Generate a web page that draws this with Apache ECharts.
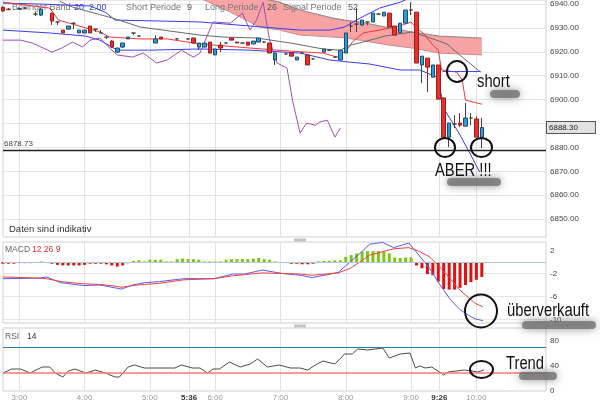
<!DOCTYPE html>
<html>
<head>
<meta charset="utf-8">
<script src="https://cdn.jsdelivr.net/npm/echarts@6/dist/echarts.min.js"></script>
<style>
html,body{margin:0;padding:0;background:#fff;}
#chart{width:600px;height:404px;}
</style>
</head>
<body>
<div id="chart"></div>
<script>
// ---------------- data ----------------
const gridTimes = ['3:00','4:00','5:00','5:36','6:00','7:00','8:00','9:00','9:26','10:00'];
const boldTimes = ['5:36','9:26'];
const priceTicks = [6850,6860,6870,6880,6890,6900,6910,6920,6930,6940];
const macdTicks = [2,-2,-6,-10];
const macdGridVals = [-2,-6,-10];
const rsiTicks = [0,40,80];
const refPrice = 6878.73;
const lastPrice = 6888.30;
const shortLevel = [['9:29',6912.0],['10:04',6912.0]];

// [time, open, close, low, high]
const candles = [
['2:45',6938.7,6937.1,6936.8,6939.0],['2:50',6937.9,6937.7,6937.4,6938.3],['3:00',6937.9,6938.1,6937.5,6938.5],
['3:05',6938.3,6938.3,6937.9,6938.7],['3:15',6935.8,6935.8,6935.0,6936.6],['3:20',6935.4,6937.9,6935.0,6938.3],
['3:30',6936.2,6932.9,6931.2,6936.4],['3:35',6932.5,6932.5,6931.2,6932.5],['3:40',6929.1,6927.9,6927.9,6929.1],
['3:45',6929.5,6930.8,6929.5,6930.8],['3:50',6932.0,6932.0,6929.5,6932.0],['3:55',6927.9,6929.1,6927.9,6929.1],
['4:00',6927.9,6929.1,6927.9,6929.1],['4:05',6930.8,6927.9,6927.9,6930.8],['4:10',6929.5,6929.5,6928.3,6929.5],
['4:15',6927.9,6927.9,6927.9,6929.1],['4:20',6926.2,6926.2,6925.4,6926.2],['4:25',6924.5,6922.0,6921.6,6924.9],
['4:30',6919.9,6921.6,6919.5,6921.6],['4:35',6922.0,6923.7,6921.6,6923.7],['4:40',6925.4,6926.2,6925.4,6926.2],
['4:45',6927.9,6927.9,6927.0,6927.9],['4:50',6926.6,6926.6,6926.4,6926.8],['5:05',6923.7,6925.4,6923.7,6927.0],
['5:10',6926.2,6925.4,6925.4,6926.2],['5:25',6925.4,6925.4,6925.2,6925.6],['5:35',6925.4,6925.4,6925.2,6925.6],
['5:40',6925.8,6923.7,6923.7,6925.8],['5:45',6922.0,6923.7,6920.7,6923.7],['5:50',6922.0,6923.7,6922.0,6923.7],
['5:55',6924.1,6919.5,6919.5,6924.1],['6:00',6918.7,6921.2,6918.7,6921.2],['6:05',6922.8,6921.6,6919.9,6924.1],
['6:10',6923.7,6923.7,6923.5,6923.9],['6:15',6925.8,6924.9,6924.9,6925.8],['6:20',6924.1,6923.7,6923.7,6924.1],
['6:25',6923.7,6923.7,6923.5,6923.9],['6:30',6924.1,6922.8,6922.8,6924.1],['6:35',6923.3,6924.5,6923.3,6924.5],
['6:40',6924.1,6925.8,6924.1,6925.8],['6:45',6924.1,6924.1,6923.9,6924.3],['6:50',6923.7,6919.5,6919.5,6923.7],
['6:55',6916.6,6919.5,6914.5,6919.5],['7:05',6919.1,6919.1,6918.9,6919.3],['7:10',6919.5,6918.2,6918.2,6919.5],
['7:15',6916.6,6917.8,6916.6,6917.8],['7:20',6919.5,6919.5,6919.3,6919.7],['7:25',6918.7,6914.5,6914.5,6918.7],
['7:30',6917.0,6917.0,6916.8,6917.2],['7:40',6919.9,6921.2,6919.9,6921.2],['7:45',6920.7,6920.7,6920.5,6920.9],
['7:50',6917.8,6917.8,6917.6,6918.0],['7:55',6916.6,6920.7,6916.6,6920.7],['8:00',6919.5,6927.9,6919.5,6927.9],
['8:05',6930.8,6930.8,6928.3,6932.5],['8:10',6931.6,6931.6,6928.3,6938.3],['8:15',6931.2,6933.3,6931.2,6933.3],
['8:20',6932.5,6932.5,6931.2,6932.5],['8:25',6932.5,6936.2,6932.5,6936.2],['8:30',6935.8,6935.8,6935.6,6936.0],
['8:35',6935.0,6936.6,6935.0,6936.6],['8:40',6936.2,6930.4,6930.4,6936.2],['8:45',6930.8,6927.0,6927.0,6930.8],
['8:50',6927.9,6932.0,6927.9,6932.0],['8:55',6932.0,6937.5,6932.0,6937.5],['9:00',6937.5,6937.5,6935.4,6940.8],
['9:05',6936.6,6915.3,6915.3,6936.6],['9:10',6914.5,6918.2,6906.9,6918.2],['9:15',6917.4,6913.6,6903.2,6917.4],
['9:20',6909.4,6914.5,6909.4,6914.5],['9:25',6914.5,6900.2,6900.2,6914.5],['9:30',6900.7,6884.3,6884.3,6900.7],
['9:35',6884.3,6890.2,6880.1,6890.2],['9:40',6889.8,6889.8,6888.1,6893.5],['9:45',6890.2,6889.3,6888.5,6894.4],
['9:50',6888.9,6892.3,6888.9,6898.6],['9:55',6892.3,6892.3,6889.3,6894.4],['10:00',6891.9,6884.3,6884.3,6893.0],
['10:05',6884.3,6888.3,6879.7,6892.3]
];

const bbUpper = [['2:45',6940.4],['3:19',6940.0],['4:05',6939.2],['4:19',6936.6],['4:28',6933.3],['5:09',6932.9],['5:46',6932.5],['6:32',6930.8],['7:18',6929.1],['7:45',6929.1],['7:59',6930.4],['8:13',6934.1],['8:31',6938.3],['8:50',6940.8],['9:01',6942.9]];
const bbLower = [['2:45',6929.1],['3:28',6927.9],['4:01',6926.6],['4:14',6924.9],['4:30',6920.7],['5:00',6920.7],['5:46',6921.2],['6:32',6920.7],['7:18',6919.5],['7:45',6916.6],['8:04',6915.7],['8:22',6914.9],['8:50',6912.4],['9:08',6912.4],['9:24',6909.4],['9:31',6895.6],['9:45',6885.2],['9:54',6877.6],['10:03',6869.7]];
const tenkan = [['2:45',6940.8],['3:28',6938.3],['3:36',6933.3],['4:14',6928.3],['4:23',6926.2],['4:51',6925.4],['5:16',6925.4],['5:46',6923.3],['6:32',6921.6],['7:09',6920.3],['7:39',6919.5],['7:52',6917.8],['8:01',6920.7],['8:06',6924.1],['8:16',6927.9],['8:40',6929.9],['8:52',6931.2],['9:00',6932.5],['9:05',6929.9],['9:11',6927.9],['9:20',6922.8],['9:25',6920.7],['9:28',6912.4],['9:42',6911.5],['9:47',6908.2],['9:50',6899.8],['10:05',6898.1]];
const kijun = [['3:37',6941.2],['3:49',6938.7],['4:26',6934.1],['4:51',6930.4],['5:46',6927.0],['6:07',6926.2],['6:38',6925.8],['7:09',6923.7],['7:39',6921.2],['7:55',6920.7],['8:04',6922.8],['8:16',6924.1],['8:36',6926.6],['9:01',6928.3],['9:20',6925.4],['9:33',6923.3],['9:47',6917.8],['10:04',6911.5]];
const chikou = [['2:45',6924.9],['3:01',6924.9],['3:12',6923.7],['3:30',6919.9],['3:39',6921.6],['3:49',6924.1],['3:58',6922.0],['4:05',6924.9],['4:14',6925.8],['4:23',6921.6],['4:30',6918.7],['4:44',6917.8],['4:54',6919.5],['5:06',6915.3],['5:16',6916.6],['5:29',6920.7],['5:40',6917.8],['5:46',6919.5],['5:58',6932.5],['6:14',6932.0],['6:25',6936.2],['6:32',6929.1],['6:38',6933.3],['6:44',6940.8],['6:50',6924.9],['6:57',6915.3],['7:06',6913.2],['7:11',6899.8],['7:18',6886.0],['7:24',6890.2],['7:32',6889.3],['7:36',6890.6],['7:43',6891.4],['7:50',6884.3],['7:55',6888.1]];
const cloudTimes  = ['5:46','6:14','6:41','6:59','7:18','7:48','7:59','8:13','8:40','9:01','9:26','10:05'];
const cloudTop    = [6942.5,6942.5,6942.5,6940.8,6937.5,6934.1,6933.3,6932.5,6930.0,6928.3,6926.6,6925.8];
const cloudBottom = [6942.5,6936.6,6930.4,6929.1,6927.0,6926.2,6925.8,6924.9,6922.8,6921.6,6919.5,6918.7];

const histStart = '2:45';
const macdHist = [-0.3,-0.3,-0.3,-0.2,-0.2,-0.2,-0.1,0.1,0.0,-0.3,
 -0.5,-0.6,-0.6,-0.6,-0.6,-0.5,-0.3,-0.3,-0.3,-0.4,
 -0.6,-0.8,-0.6,-0.2,0.2,0.3,0.1,0.4,0.4,0.4,
 0.1,0.1,0.5,0.6,0.5,0.5,0.4,0.1,0.1,0.1,
 0.1,0.4,0.5,0.5,0.5,0.5,0.6,0.7,0.5,0.4,
 0.1,0.0,-0.1,-0.3,-0.3,-0.4,-0.4,-0.3,0.1,0.2,
 0.2,0.3,0.3,0.9,1.2,1.5,1.8,1.9,1.9,1.9,
 1.8,1.5,0.8,0.7,0.8,0.8,-0.6,-1.1,-2.1,-2.3,
 -3.4,-4.7,-4.8,-4.8,-4.5,-4.0,-3.5,-3.1,-2.6];
const macdLine = [['2:45',-2.9],['3:19',-2.8],['3:25',-2.6],['3:38',-3.6],['3:59',-4.1],['4:14',-4.0],['4:28',-4.5],['4:34',-4.7],['4:44',-4.0],['4:55',-3.6],['5:09',-3.4],['5:31',-2.9],['5:59',-2.9],['6:16',-2.1],['6:27',-2.1],['6:43',-1.4],['7:02',-2.0],['7:18',-2.3],['7:29',-2.7],['7:41',-2.3],['7:53',-1.8],['8:04',0.0],['8:13',1.5],['8:22',3.1],['8:34',3.4],['8:44',2.5],['8:58',3.3],['9:08',1.0],['9:17',-1.1],['9:26',-3.8],['9:36',-6.5],['9:45',-8.3],['9:54',-9.4],['9:59',-9.9],['10:06',-10.2]];
const signalLine = [['2:45',-2.6],['3:19',-2.8],['3:25',-2.9],['3:38',-3.4],['3:59',-3.8],['4:14',-3.9],['4:28',-4.2],['4:34',-4.4],['4:44',-4.1],['4:55',-3.9],['5:09',-3.7],['5:31',-3.1],['5:59',-2.9],['6:16',-2.4],['6:27',-2.2],['6:43',-1.9],['7:02',-2.0],['7:18',-2.1],['7:29',-2.3],['7:41',-2.1],['7:53',-1.9],['8:04',-1.1],['8:13',0.0],['8:22',1.2],['8:34',1.8],['8:44',2.3],['8:58',2.5],['9:08',1.8],['9:17',0.9],['9:26',-0.8],['9:36',-2.9],['9:45',-4.9],['9:54',-6.4],['9:59',-7.2],['10:06',-7.8]];
const rsi = [['2:45',28.8],['2:53',35.2],['3:01',35.2],['3:10',28.8],['3:21',38.4],['3:28',38.4],['3:33',28.8],['3:40',22.4],['3:45',32],['3:51',35.2],['4:01',28.8],['4:10',33.6],['4:19',28.8],['4:28',22.4],['4:32',22.4],['4:40',38.4],['4:46',41.6],['4:55',36.8],['5:23',36.8],['5:29',41.6],['5:39',36.8],['5:46',36.8],['5:53',28.8],['5:58',35.2],['6:04',35.2],['6:13',46.4],['6:23',38.4],['6:32',43.2],['6:39',51.2],['6:48',38.4],['6:59',41.6],['7:09',36.8],['7:18',36.8],['7:25',33.6],['7:32',41.6],['7:39',48],['7:50',43.2],['7:59',59.2],['8:06',59.2],['8:11',67.2],['8:20',65.6],['8:27',67.2],['8:34',68.8],['8:40',52.8],['8:50',59.2],['8:59',60.8],['9:04',36.8],['9:08',40],['9:13',36.8],['9:19',38.4],['9:26',30.4],['9:30',25.6],['9:34',30.4],['9:49',33.6],['9:56',32],['10:01',30.4],['10:07',33.6]];
const rsiUpper = 70, rsiLower = 30;

// ---------------- helpers ----------------
const FONT = '"Liberation Sans", Arial, sans-serif';
function m(s){const p=s.split(':');return (+p[0])*60+(+p[1]);}
function fmt(v){const h=Math.floor(v/60),n=Math.round(v-h*60);return h+':'+(n<10?'0':'')+n;}
const pts = arr => arr.map(d=>[m(d[0]), d[1]]);
const X_MIN = m('2:45'), X_MAX = 664;

function xAxisFor(g, labels){
  return {type:'value', gridIndex:g, min:X_MIN, max:X_MAX,
    axisLine:{show:false},
    axisTick:{show:false, customValues: gridTimes.map(m)},
    splitLine:{show:true, lineStyle:{color:'#e2e2e2', width:1}},
    axisLabel: labels ? {show:true, customValues: gridTimes.map(m), margin:3, fontSize:8, color:'#999', fontFamily:FONT,
      formatter: v => boldTimes.includes(fmt(v)) ? '{b|'+fmt(v)+'}' : fmt(v),
      rich:{b:{fontWeight:'bold', color:'#333', fontSize:8, fontFamily:FONT}}} : {show:false}
  };
}
function yAxisFor(g, min, max, labels, gridVals, dec){
  return {type:'value', gridIndex:g, position:'right', min:min, max:max,
    axisLine:{show:false},
    axisTick:{show:false, customValues: gridVals},
    splitLine:{show:gridVals.length>0, lineStyle:{color:'#e6e6e6', width:1}},
    axisLabel:{customValues: labels, formatter: v => v.toFixed(dec), fontSize:8, color:'#444', margin:4, fontFamily:FONT}
  };
}
const lineS = (name, data, color, xi, w) => ({name, type:'line', xAxisIndex:xi, yAxisIndex:xi, data:pts(data),
  symbol:'none', smooth:false, lineStyle:{color:color, width:w||1}, itemStyle:{color:color}, z:3, animation:false});

const chart = echarts.init(document.getElementById('chart'), null, {renderer:'canvas'});

const txt = (x,y,text,fill,size,extra) => Object.assign({type:'text', x:x, y:y, z:1,
  style:{text:text, fill:fill, font:(size||9)+'px '+FONT, align:'left', verticalAlign:'middle'}}, extra||{});
const big = (x,y,text) => ({type:'text', x:x, y:y, z:100, scaleX:0.82,
  style:{text:text, fill:'#111', font:'18px '+FONT, align:'left', verticalAlign:'middle'}});
const ring = (cx,cy,rx,ry) => ({type:'ellipse', z:100, shape:{cx:cx,cy:cy,rx:rx,ry:ry}, style:{fill:'none', stroke:'#111', lineWidth:2}});
const smudge = (x,y,w,h) => ({type:'rect', z:90, shape:{x:x,y:y,width:w,height:h,r:4},
  style:{fill:'rgba(110,110,110,0.75)', shadowBlur:9, shadowColor:'rgba(90,90,90,0.9)'}});

const option = {
  animation:false,
  backgroundColor:'#fff',
  grid:[
    {left:3, right:54, top:0, height:237, show:true, borderColor:'#cfcfcf', borderWidth:1},
    {left:3, right:54, top:242, height:81, show:true, borderColor:'#cfcfcf', borderWidth:1},
    {left:3, right:54, top:328, height:63, show:true, borderColor:'#cfcfcf', borderWidth:1}
  ],
  xAxis:[xAxisFor(0,false), xAxisFor(1,false), xAxisFor(2,true)],
  yAxis:[
    yAxisFor(0, 6842.5, 6941.7, priceTicks, priceTicks, 2),
    yAxisFor(1, -10.61, 3.48, macdTicks, macdGridVals, 0),
    yAxisFor(2, 0, 100.8, rsiTicks, [], 0)
  ],
  series:[
    {type:'custom', name:'cloud', xAxisIndex:0, yAxisIndex:0, z:0, silent:true,
     data:[[m(cloudTimes[0]), cloudBottom[0]]],
     renderItem:function(params, api){
       const top = cloudTimes.map((t,i)=>api.coord([m(t), cloudTop[i]]));
       const bot = cloudTimes.map((t,i)=>api.coord([m(t), cloudBottom[i]]));
       const cs = params.coordSys;
       return {type:'group', clipPath:{type:'rect', shape:{x:cs.x, y:cs.y, width:cs.width, height:cs.height}},
         children:[
           {type:'polygon', shape:{points: top.concat(bot.slice().reverse())}, style:{fill:'#f7a3a3', stroke:null}},
           {type:'polyline', shape:{points: top}, style:{stroke:'#9a8a8a', lineWidth:1.2, fill:null}},
           {type:'polyline', shape:{points: bot}, style:{stroke:'#d08a8a', lineWidth:1, fill:null}}
         ]};
     }},
    lineS('bbUpper', bbUpper, '#3b3be6', 0),
    Object.assign(lineS('bbLower', bbLower, '#3b3be6', 0), {markLine:{silent:true, symbol:['none','none'], animation:false,
       label:{show:false}, lineStyle:{color:'#4a4ae8', width:1, type:'solid'},
       data:[[{coord:pts(shortLevel)[0]},{coord:pts(shortLevel)[1]}]]}}),
    lineS('tenkan', tenkan, '#ee3a3a', 0),
    lineS('kijun', kijun, '#6a6a6a', 0),
    lineS('chikou', chikou, '#a04db8', 0),
    {type:'candlestick', name:'price', xAxisIndex:0, yAxisIndex:0, z:5, barWidth:4,
     data: candles.map(c=>[m(c[0]), c[1], c[2], c[3], c[4]]),
     encode:{x:0, y:[1,2,3,4]},
     itemStyle:{color:'#22a0dc', color0:'#e8302a', borderColor:'#26486a', borderColor0:'#9c1e1e', borderColorDoji:'#444', borderWidth:1},
     markLine:{silent:true, symbol:['none','none'], animation:false, data:[
       {yAxis:refPrice, lineStyle:{color:'#222', width:1.3, type:'solid'},
        label:{show:true, position:'insideStartTop', formatter:refPrice.toFixed(2), color:'#444', fontSize:8, fontFamily:FONT, distance:[1,3]}},
       {yAxis:lastPrice, lineStyle:{color:'rgba(0,0,0,0)', width:0},
        label:{show:true, position:'end', formatter:lastPrice.toFixed(2), color:'#222', fontSize:8, fontFamily:FONT,
          backgroundColor:'#e2e2e2', borderColor:'#555', borderWidth:1, padding:[2,17,1,2], distance:1}}
     ]}},
    {type:'bar', name:'hist', xAxisIndex:1, yAxisIndex:1, barWidth:3, z:2,
     data: macdHist.map((v,i)=>[m(histStart)+5*i, v]),
     itemStyle:{color: p => p.value[1] >= 0 ? '#7cc714' : '#e31010'},
     markLine:{silent:true, symbol:['none','none'], animation:false, label:{show:false},
       data:[{yAxis:0, lineStyle:{color:'#b5c5d8', width:1, type:'solid'}}]}},
    lineS('macd', macdLine, '#5a5af0', 1),
    lineS('signal', signalLine, '#f04040', 1),
    Object.assign(lineS('rsi', rsi, '#4a4a4a', 2), {markLine:{silent:true, symbol:['none','none'], animation:false, label:{show:false},
       data:[{yAxis:rsiUpper, lineStyle:{color:'#3a78a8', width:1.2, type:'solid'}},
             {yAxis:rsiLower, lineStyle:{color:'#ff7878', width:1.6, type:'solid'}}]}})
  ],
  graphic:[
    txt(12,8,'Bollinger Band','#777'), txt(74,8,'20','#3344dd'), txt(89,8,'2.00','#3344dd'),
    txt(126,8,'Short Periode','#777'), txt(187,8,'9','#555'),
    txt(205,8,'Long Periode','#777'), txt(267,8,'26','#555'),
    txt(283,8,'Signal Periode','#777'), txt(348,8,'52','#555'),
    txt(9,229,'Daten sind indikativ','#333',9.5),
    txt(5,250,'MACD','#666',8.5), txt(32,250,'12 26 9','#e03030',8.5),
    txt(5,337,'RSI','#666',8.5), txt(27,337,'14','#333',8.5),
    {type:'rect', z:50, shape:{x:294,y:238.5,width:12,height:3}, style:{fill:'#c4c4c4'}},
    {type:'rect', z:50, shape:{x:294,y:324.5,width:12,height:3}, style:{fill:'#c4c4c4'}},
    smudge(490,90,30,8), smudge(447,178,54,8), smudge(522,321,74,8), smudge(519,372,38,8),
    ring(457,71.5,10,10.5), ring(445,147.5,10,9.5), ring(481.5,147.5,10.5,9.5), ring(481,311,16,16.5), ring(481.5,369.5,11.5,8.5),
    big(477,82,'short'), big(435,170.6,'ABER !!!'), big(507,311.3,'überverkauft'), big(506,363.6,'Trend')
  ]
};
chart.setOption(option);
</script>
</body>
</html>
